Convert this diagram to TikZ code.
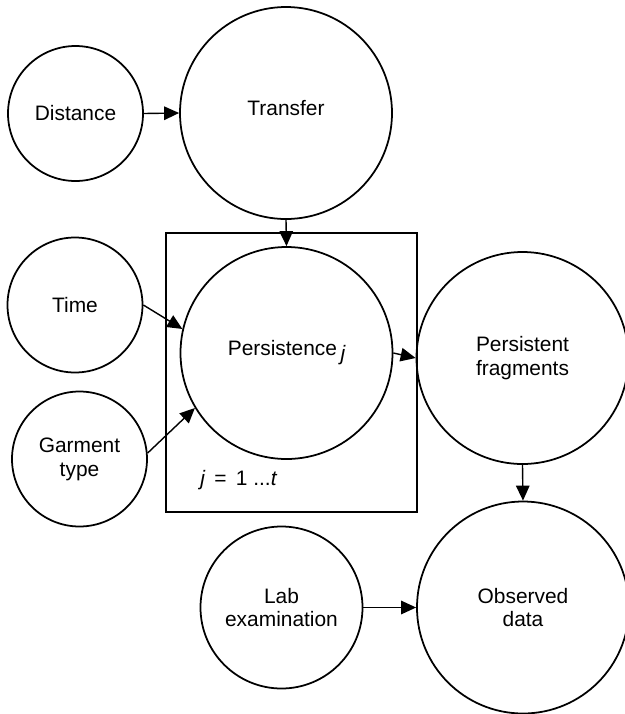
\documentclass[tikz,border=0pt]{standalone}
\usepackage{fontspec}
\setmainfont{Liberation Sans}
\usetikzlibrary{arrows.meta, positioning}

\begin{document}
\begin{tikzpicture}[
  every node/.style={font=\fontsize{11.9}{13.6}\selectfont},
  var/.style={circle, draw, line width=1pt, inner sep=0pt, align=center},
  small/.style={var, minimum size=2.7cm},
  big/.style={var, minimum size=4.24cm},
  raised/.style={text depth=0.2cm},
  plate/.style={rectangle, draw, line width=1pt, inner sep=0pt},
  link/.style={-{Triangle[length=0.3cm, width=0.27cm]}, line width=0.8pt},
]
\useasboundingbox (0,0) rectangle (12.5,-14.28);

\node[small] (dist) at (1.51, -2.27) {Distance};
\node[big, raised] (trans) at (5.72, -2.26) {Transfer};
\node[plate, minimum width=5.02cm, minimum height=5.58cm] (plate) at (5.83, -7.45) {};
\node[big, raised] (pers) at (5.73, -7.06) {Persistence\,\raisebox{-0.45ex}{\itshape j}};
\node[small] (time) at (1.50, -6.10) {Time};
\node[small] (garm) at (1.59, -9.18) {Garment\\type};
\node[big] (frag) at (10.45, -7.16) {Persistent\\fragments};
\node[big] (obs) at (10.46, -12.15) {Observed\\data};
\node[var, minimum size=3.24cm] (lab) at (5.63, -12.15) {Lab\\examination};
\node (idx) at (4.77, -9.6) {{\itshape j}\ \,=\ \,1 ...{\itshape t}};

\draw[link] (dist.east) -- (trans.west);
\draw[link] (trans.south) -- (pers.north);
\draw[link] (time.east) -- (pers.167);
\draw[link] (garm.5) -- (pers.211);
\draw[link] (pers.east) -- (frag.west);
\draw[link] (frag.south) -- (obs.north);
\draw[link] (lab.east) -- (obs.west);

\end{tikzpicture}
\end{document}
